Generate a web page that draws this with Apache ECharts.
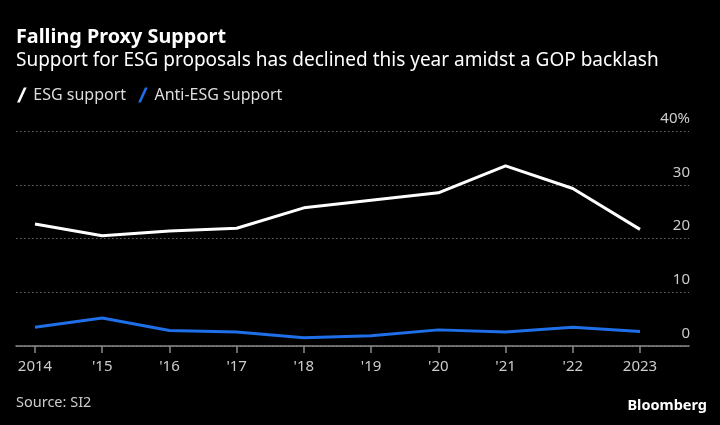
<!DOCTYPE html>
<html>
<head>
<meta charset="utf-8">
<script src="https://cdn.jsdelivr.net/npm/echarts@6/dist/echarts.min.js"></script>
<style>
html,body{margin:0;padding:0;background:#000;}
#c{width:720px;height:425px;}
</style>
</head>
<body>
<div id="c"></div>
<script>
var years = ['2014','2015','2016','2017','2018','2019','2020','2021','2022','2023'];
var esgSupport = [22.7, 20.5, 21.4, 21.9, 25.7, 27.1, 28.5, 33.5, 29.3, 21.7];
var antiEsgSupport = [3.5, 5.2, 2.9, 2.6, 1.55, 1.9, 3.0, 2.6, 3.5, 2.7];
var yTicks = [0, 10, 20, 30, 40];

var FONT = 'Noto Sans';
var chart = echarts.init(document.getElementById('c'), null, {renderer: 'canvas'});
var slash = 'path://M0,14 L2.6,14 L9,0 L6.4,0 Z';

chart.setOption({
  backgroundColor: '#000',
  animation: false,
  textStyle: {fontFamily: FONT},
  title: [
    {text: 'Falling Proxy Support', left: 16, top: 27, padding: 0,
     textStyle: {color: '#fff', fontSize: 19.8, fontWeight: 'bold', fontFamily: FONT}},
    {text: 'Support for ESG proposals has declined this year amidst a GOP backlash', left: 16, top: 51, padding: 0,
     textStyle: {color: '#fff', fontSize: 19, fontWeight: 'normal', fontFamily: FONT}},
    {text: 'Source: SI2', left: 16, top: 395, padding: 0,
     textStyle: {color: '#ccc', fontSize: 14.5, fontWeight: 'normal', fontFamily: FONT}},
    {text: 'Bloomberg', right: 13, top: 398, padding: 0,
     textStyle: {color: '#fff', fontSize: 14.5, fontWeight: 'bold', fontFamily: FONT}}
  ],
  legend: {
    left: 17, top: 87, padding: 0, itemWidth: 13, itemHeight: 15, itemGap: 12,
    icon: slash,
    textStyle: {color: '#ddd', fontSize: 16, fontFamily: FONT},
    data: ['ESG support', 'Anti-ESG support']
  },
  grid: [
    {left: 16, right: 31, top: 131, bottom: 79},
    {left: 35, right: 80, top: 131, bottom: 79}
  ],
  xAxis: [
    {gridIndex: 0, type: 'value', min: 0, max: 1,
     axisLine: {show: true, lineStyle: {color: '#8a8a8a', width: 1.5}},
     axisTick: {show: false}, axisLabel: {show: false}, splitLine: {show: false}},
    {gridIndex: 1, type: 'category', boundaryGap: false, data: years,
     axisLine: {show: false},
     axisTick: {show: true, length: 7, lineStyle: {color: '#8a8a8a', width: 1.5}},
     axisLabel: {color: '#ccc', fontSize: 15, margin: 13, fontFamily: FONT,
       formatter: function (v, i) { return (i === 0 || i === years.length - 1) ? v : "'" + v.slice(2); }},
     splitLine: {show: false}}
  ],
  yAxis: [
    {gridIndex: 0, type: 'value', position: 'right', min: yTicks[0], max: yTicks[yTicks.length - 1], interval: 10,
     axisLine: {show: false}, axisTick: {show: false},
     axisLabel: {inside: true, margin: -1, color: '#ccc', fontSize: 15, fontFamily: FONT,
       verticalAlign: 'bottom', padding: [0, 0, 5, 0],
       formatter: function (v) { return v === 40 ? '40%' : String(v); }},
     splitLine: {show: true, lineStyle: {color: '#666', type: [1.5, 2.5], width: 1}}},
    {gridIndex: 1, type: 'value', min: 0, max: 40, show: false}
  ],
  series: [
    {name: 'ESG support', type: 'line', xAxisIndex: 1, yAxisIndex: 1, data: esgSupport,
     showSymbol: false, color: '#ffffff', lineStyle: {color: '#ffffff', width: 3}, itemStyle: {color: '#ffffff'}},
    {name: 'Anti-ESG support', type: 'line', xAxisIndex: 1, yAxisIndex: 1, data: antiEsgSupport,
     showSymbol: false, color: '#1f6fe8', lineStyle: {color: '#1f6fe8', width: 3}, itemStyle: {color: '#1f6fe8'}}
  ]
});
</script>
</body>
</html>
